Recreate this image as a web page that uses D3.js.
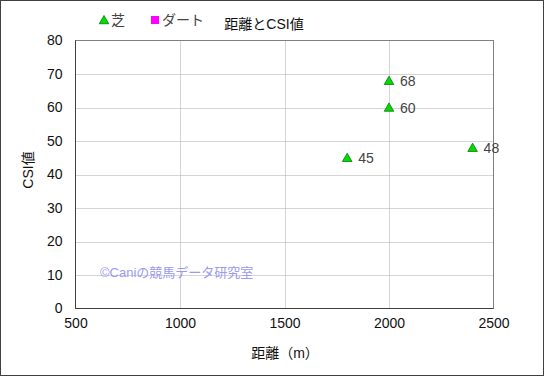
<!DOCTYPE html>
<html>
<head>
<meta charset="utf-8">
<script src="https://cdn.jsdelivr.net/npm/d3@7"></script>
<style>
  body { margin: 0; background: #fff; }
  svg text { font-family: "Liberation Sans", "Noto Sans CJK JP", sans-serif; }
</style>
</head>
<body>
<div id="chart"></div>
<script>
// data
const distances = [1800, 2000, 2000, 2400];
const csiValues = [45, 68, 60, 48];
const xTicks = [500, 1000, 1500, 2000, 2500];
const yTicks = [0, 10, 20, 30, 40, 50, 60, 70, 80];
const legendItems = [
  { label: "芝", shape: "triangle", color: "#00dd00" },
  { label: "ダート", shape: "square", color: "#ff00ff" }
];

const width = 545, height = 377;
const margin = { left: 75.5, right: 51.5, top: 40.5, bottom: 68.5 };

const svg = d3.select("#chart")
  .append("svg")
    .attr("width", width)
    .attr("height", height);

// outer frame
svg.append("rect")
  .attr("x", 0.5).attr("y", 0.5)
  .attr("width", width - 2).attr("height", height - 2)
  .attr("fill", "#fff")
  .attr("stroke", "#404040");

const x = d3.scaleLinear()
  .domain([500, 2500])
  .range([margin.left, width - margin.right]);

const y = d3.scaleLinear()
  .domain([0, 80])
  .range([height - margin.bottom, margin.top]);

// grid
const grid = svg.append("g")
  .attr("stroke", "#aaa")
  .attr("stroke-dasharray", "1 1");
grid.selectAll(".gx")
  .data(xTicks.slice(1, -1))
  .join("line")
    .attr("x1", d => Math.round(x(d)) + 0.5).attr("x2", d => Math.round(x(d)) + 0.5)
    .attr("y1", y(80)).attr("y2", y(0));
grid.selectAll(".gy")
  .data(yTicks.slice(1, -1))
  .join("line")
    .attr("x1", x(500)).attr("x2", x(2500))
    .attr("y1", d => Math.round(y(d)) + 0.5).attr("y2", d => Math.round(y(d)) + 0.5);

// plot frame
svg.append("rect")
  .attr("x", x(500)).attr("y", y(80))
  .attr("width", x(2500) - x(500))
  .attr("height", y(0) - y(80))
  .attr("fill", "none")
  .attr("stroke", "#808080");
svg.append("path")
  .attr("d", `M${x(500)},${y(80)}V${y(0)}H${x(2500)}`)
  .attr("fill", "none")
  .attr("stroke", "#404040");

// axes labels
const xAxis = d3.axisBottom(x).tickValues(xTicks).tickFormat(d3.format("d"))
  .tickSize(0).tickPadding(10);
svg.append("g")
  .attr("transform", `translate(0,${y(0)})`)
  .call(xAxis)
  .call(g => g.select(".domain").remove())
  .selectAll("text")
    .attr("font-size", 14)
    .attr("fill", "#111");

const yAxis = d3.axisLeft(y).tickValues(yTicks).tickSize(0).tickPadding(13);
svg.append("g")
  .attr("transform", `translate(${x(500)},0)`)
  .call(yAxis)
  .call(g => g.select(".domain").remove())
  .selectAll("text")
    .attr("font-size", 14)
    .attr("fill", "#111");

// titles
svg.append("text")
  .attr("x", 264).attr("y", 29)
  .attr("text-anchor", "middle")
  .attr("font-size", 14)
  .attr("fill", "#111")
  .text("距離とCSI値");

svg.append("text")
  .attr("x", 285).attr("y", 358)
  .attr("text-anchor", "middle")
  .attr("font-size", 14)
  .attr("fill", "#111")
  .text("距離（m）");

svg.append("text")
  .attr("transform", "translate(33,170) rotate(-90)")
  .attr("text-anchor", "middle")
  .attr("font-size", 14)
  .attr("fill", "#111")
  .text("CSI値");

// watermark
svg.append("text")
  .attr("x", 100).attr("y", 277)
  .attr("font-size", 13)
  .attr("fill", "#9a9af0")
  .text("©Caniの競馬データ研究室");

// points
const tri = d3.symbol().type(d3.symbolTriangle).size(40);
const points = svg.append("g");
points.selectAll("path")
  .data(distances)
  .join("path")
    .attr("transform", (d, i) => `translate(${x(d)},${y(csiValues[i]) + 1})`)
    .attr("d", tri)
    .attr("fill", "#00dd00")
    .attr("stroke", "#006600")
    .attr("stroke-width", 0.7);

points.selectAll("text")
  .data(distances)
  .join("text")
    .attr("x", d => x(d) + 11)
    .attr("y", (d, i) => y(csiValues[i]) + 5)
    .attr("font-size", 14)
    .attr("fill", "#444")
    .text((d, i) => csiValues[i]);

// legend
const legend = svg.append("g");
const legendX = [104, 155];
legendItems.forEach((item, i) => {
  const lx = legendX[i];
  if (item.shape === "triangle") {
    legend.append("path")
      .attr("transform", `translate(${lx},21)`)
      .attr("d", tri)
      .attr("fill", item.color)
      .attr("stroke", "#006600")
      .attr("stroke-width", 0.7);
  } else {
    legend.append("rect")
      .attr("x", lx - 4).attr("y", 16)
      .attr("width", 8).attr("height", 8)
      .attr("fill", item.color);
  }
  legend.append("text")
    .attr("x", lx + 7).attr("y", 25)
    .attr("font-size", 14)
    .attr("fill", "#444")
    .text(item.label);
});
</script>
</body>
</html>
